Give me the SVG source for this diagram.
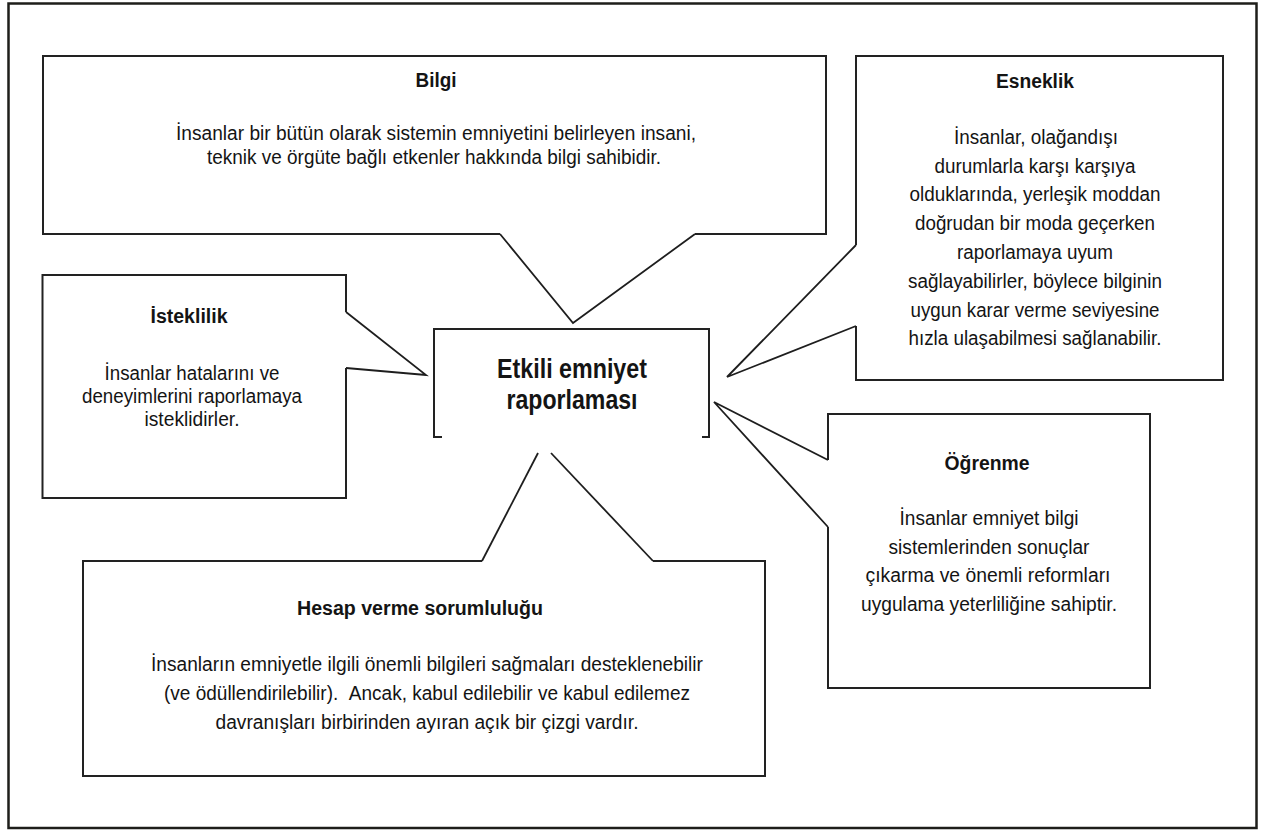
<svg xmlns="http://www.w3.org/2000/svg" width="1261" height="833" viewBox="0 0 1261 833">
  <style>
    .frame { fill: none; stroke: #1e1e1a; stroke-width: 2.5; }
    .box { fill: none; stroke: #222; stroke-width: 2; stroke-linejoin: miter; }
    .tail { fill: none; stroke: #1e1e1e; stroke-width: 1.8; stroke-linejoin: miter; }
    text { font-family: "Liberation Sans", Arial, sans-serif; fill: #141414; text-anchor: middle; }
    .title { font-size: 20px; font-weight: bold; }
    .body { font-size: 19.5px; }
    .core { font-size: 27px; font-weight: bold; }
  </style>

  <rect width="1261" height="833" fill="#ffffff"/>
  <rect class="frame" x="8.5" y="3.5" width="1248" height="824.5"/>

  <!-- callout bodies, each outline left open where its pointer joins -->
  <g id="node-bilgi">
    <path class="box" d="M500,234 H43 V56 H826 V234 H695"/>
    <text class="title" x="436" y="87" textLength="41" lengthAdjust="spacingAndGlyphs">Bilgi</text>
    <text class="body" x="436" y="140" textLength="520" lengthAdjust="spacingAndGlyphs">İnsanlar bir bütün olarak sistemin emniyetini belirleyen insani,</text>
    <text class="body" x="434" y="164" textLength="454" lengthAdjust="spacingAndGlyphs">teknik ve örgüte bağlı etkenler hakkında bilgi sahibidir.</text>
  </g>

  <g id="node-isteklilik">
    <path class="box" d="M346,368 V498 H42.5 V275 H346 V312"/>
    <text class="title" x="189" y="323" textLength="77" lengthAdjust="spacingAndGlyphs">İsteklilik</text>
    <text class="body" x="192" y="380" textLength="175" lengthAdjust="spacingAndGlyphs">İnsanlar hatalarını ve</text>
    <text class="body" x="192" y="403" textLength="220" lengthAdjust="spacingAndGlyphs">deneyimlerini raporlamaya</text>
    <text class="body" x="192" y="426" textLength="95" lengthAdjust="spacingAndGlyphs">isteklidirler.</text>
  </g>

  <g id="node-esneklik">
    <path class="box" d="M856,245 V56 H1223 V380 H856 V326"/>
    <text class="title" x="1035" y="88" textLength="78" lengthAdjust="spacingAndGlyphs">Esneklik</text>
    <text class="body" x="1036" y="144" textLength="164" lengthAdjust="spacingAndGlyphs">İnsanlar, olağandışı</text>
    <text class="body" x="1035" y="173" textLength="201" lengthAdjust="spacingAndGlyphs">durumlarla karşı karşıya</text>
    <text class="body" x="1035" y="201" textLength="251" lengthAdjust="spacingAndGlyphs">olduklarında, yerleşik moddan</text>
    <text class="body" x="1035" y="230" textLength="240" lengthAdjust="spacingAndGlyphs">doğrudan bir moda geçerken</text>
    <text class="body" x="1035" y="259" textLength="156" lengthAdjust="spacingAndGlyphs">raporlamaya uyum</text>
    <text class="body" x="1035" y="288" textLength="254" lengthAdjust="spacingAndGlyphs">sağlayabilirler, böylece bilginin</text>
    <text class="body" x="1035" y="317" textLength="249" lengthAdjust="spacingAndGlyphs">uygun karar verme seviyesine</text>
    <text class="body" x="1035" y="345" textLength="253" lengthAdjust="spacingAndGlyphs">hızla ulaşabilmesi sağlanabilir.</text>
  </g>

  <g id="node-etkili">
    <path class="box" d="M442,437 H434 V329 H709 V437 H702"/>
    <text class="core" x="572" y="378" textLength="150" lengthAdjust="spacingAndGlyphs">Etkili emniyet</text>
    <text class="core" x="572" y="409" textLength="131" lengthAdjust="spacingAndGlyphs">raporlaması</text>
  </g>

  <g id="node-ogrenme">
    <path class="box" d="M828,460 V414 H1150 V688 H828 V527"/>
    <text class="title" x="987" y="470" textLength="85" lengthAdjust="spacingAndGlyphs">Öğrenme</text>
    <text class="body" x="989" y="525" textLength="179" lengthAdjust="spacingAndGlyphs">İnsanlar emniyet bilgi</text>
    <text class="body" x="989" y="554" textLength="201" lengthAdjust="spacingAndGlyphs">sistemlerinden sonuçlar</text>
    <text class="body" x="988" y="582" textLength="245" lengthAdjust="spacingAndGlyphs">çıkarma ve önemli reformları</text>
    <text class="body" x="989" y="611" textLength="256" lengthAdjust="spacingAndGlyphs">uygulama yeterliliğine sahiptir.</text>
  </g>

  <g id="node-hesap">
    <path class="box" d="M482,561 H83 V776 H765 V561 H653"/>
    <text class="title" x="420" y="615" textLength="246" lengthAdjust="spacingAndGlyphs">Hesap verme sorumluluğu</text>
    <text class="body" x="427" y="671" textLength="552" lengthAdjust="spacingAndGlyphs">İnsanların emniyetle ilgili önemli bilgileri sağmaları desteklenebilir</text>
    <text class="body" x="427" y="700" textLength="526" lengthAdjust="spacingAndGlyphs">(ve ödüllendirilebilir). &#160;Ancak, kabul edilebilir ve kabul edilemez</text>
    <text class="body" x="427" y="729" textLength="423" lengthAdjust="spacingAndGlyphs">davranışları birbirinden ayıran açık bir çizgi vardır.</text>
  </g>

  <!-- pointers from each callout toward the central box -->
  <g id="connectors">
    <path class="tail" d="M695,234 L573,323 L500,234"/>
    <path class="tail" d="M346,312 L426,375 L346,368"/>
    <path class="tail" d="M856,245 L727,377 L856,326"/>
    <path class="tail" d="M828,460 L714,402 L828,527"/>
    <path class="tail" d="M482,561 L538,453"/>
    <path class="tail" d="M551,453 L653,561"/>
  </g>
</svg>
